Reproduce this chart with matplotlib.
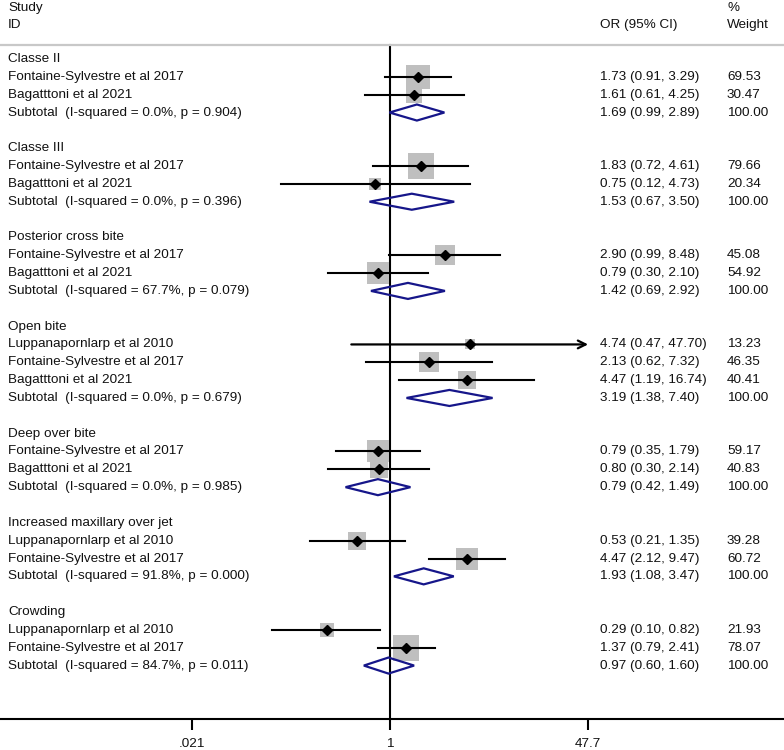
import numpy as np
import matplotlib
matplotlib.use("Agg")
import matplotlib.pyplot as plt
from matplotlib.patches import Polygon

plt.rcParams['font.family'] = ['Liberation Sans', 'DejaVu Sans']

groups = ['Classe II', 'Classe III', 'Posterior cross bite', 'Open bite',
          'Deep over bite', 'Increased maxillary over jet', 'Crowding']
study_names = [
    ['Fontaine-Sylvestre et al 2017', 'Bagatttoni et al 2021'],
    ['Fontaine-Sylvestre et al 2017', 'Bagatttoni et al 2021'],
    ['Fontaine-Sylvestre et al 2017', 'Bagatttoni et al 2021'],
    ['Luppanapornlarp et al 2010', 'Fontaine-Sylvestre et al 2017', 'Bagatttoni et al 2021'],
    ['Fontaine-Sylvestre et al 2017', 'Bagatttoni et al 2021'],
    ['Luppanapornlarp et al 2010', 'Fontaine-Sylvestre et al 2017'],
    ['Luppanapornlarp et al 2010', 'Fontaine-Sylvestre et al 2017'],
]
study_or = [[1.73, 1.61], [1.83, 0.75], [2.90, 0.79], [4.74, 2.13, 4.47],
            [0.79, 0.80], [0.53, 4.47], [0.29, 1.37]]
study_lo = [[0.91, 0.61], [0.72, 0.12], [0.99, 0.30], [0.47, 0.62, 1.19],
            [0.35, 0.30], [0.21, 2.12], [0.10, 0.79]]
study_hi = [[3.29, 4.25], [4.61, 4.73], [8.48, 2.10], [47.70, 7.32, 16.74],
            [1.79, 2.14], [1.35, 9.47], [0.82, 2.41]]
study_wt = [[69.53, 30.47], [79.66, 20.34], [45.08, 54.92], [13.23, 46.35, 40.41],
            [59.17, 40.83], [39.28, 60.72], [21.93, 78.07]]
sub_or = [1.69, 1.53, 1.42, 3.19, 0.79, 1.93, 0.97]
sub_lo = [0.99, 0.67, 0.69, 1.38, 0.42, 1.08, 0.60]
sub_hi = [2.89, 3.50, 2.92, 7.40, 1.49, 3.47, 1.60]
sub_i2 = [0.0, 0.0, 67.7, 0.0, 0.0, 91.8, 84.7]
sub_p = [0.904, 0.396, 0.079, 0.679, 0.985, 0.000, 0.011]

tick_vals = [0.021, 1, 47.7]
tick_labels = ['.021', '1', '47.7']

W, H = 784, 750
fig = plt.figure(figsize=(W / 100, H / 100), dpi=100)
axis_px = 719
ax = fig.add_axes([0, (H - axis_px) / H, 1, axis_px / H])

row0, step = 59, 17.84
px_per_ln = 51.25
ax.set_xscale('log')
ax.set_xlim(np.exp(-390 / px_per_ln), np.exp((W - 390) / px_per_ln))
ax.set_ylim((axis_px - row0) / step, -row0 / step)

fs = 9.7
tc = '#111111'
tr = ax.get_yaxis_transform()
col_id, col_or, col_wt = 8 / W, 600 / W, 727 / W

# header
ax.text(col_id, (8 - row0) / step, 'Study', transform=tr, fontsize=fs, va='center', color=tc)
ax.text(col_id, (25 - row0) / step, 'ID', transform=tr, fontsize=fs, va='center', color=tc)
ax.text(col_or, (25 - row0) / step, 'OR (95% CI)', transform=tr, fontsize=fs, va='center', color=tc)
ax.text(col_wt, (8 - row0) / step, '%', transform=tr, fontsize=fs, va='center', color=tc)
ax.text(col_wt, (25 - row0) / step, 'Weight', transform=tr, fontsize=fs, va='center', color=tc)
line_row = (44.5 - row0) / step
ax.axhline(line_row, color='#c8c8c8', lw=1.6, clip_on=False)

xmax = tick_vals[-1]
row = 0
for g in range(len(groups)):
    ax.text(col_id, row, groups[g], transform=tr, fontsize=fs, va='center', color=tc)
    row += 1
    for k in range(len(study_names[g])):
        o, lo, hi, w = study_or[g][k], study_lo[g][k], study_hi[g][k], study_wt[g][k]
        ax.scatter([o], [row], marker='s', s=4.2 * w, color='#bfbfbf', linewidths=0, zorder=2)
        if hi >= xmax:
            ax.annotate('', xy=(xmax, row), xytext=(lo, row),
                        arrowprops=dict(arrowstyle='->', lw=1.6, color='black',
                                        mutation_scale=14, shrinkA=0, shrinkB=0), zorder=3)
        else:
            ax.plot([lo, hi], [row, row], color='black', lw=1.5, zorder=3)
        ax.plot([o], [row], marker='D', color='black', markersize=5, zorder=4)
        ax.text(col_id, row, study_names[g][k], transform=tr, fontsize=fs, va='center', color=tc)
        ax.text(col_or, row, '%.2f (%.2f, %.2f)' % (o, lo, hi), transform=tr,
                fontsize=fs, va='center', color=tc)
        ax.text(col_wt, row, '%.2f' % w, transform=tr, fontsize=fs, va='center', color=tc)
        row += 1
    h = 0.45
    dia = Polygon([(sub_lo[g], row), (sub_or[g], row - h), (sub_hi[g], row), (sub_or[g], row + h)],
                  closed=True, fill=False, edgecolor='#16168a', lw=1.6, zorder=5)
    ax.add_patch(dia)
    ax.text(col_id, row, 'Subtotal  (I-squared = %.1f%%, p = %.3f)' % (sub_i2[g], sub_p[g]),
            transform=tr, fontsize=fs, va='center', color=tc)
    ax.text(col_or, row, '%.2f (%.2f, %.2f)' % (sub_or[g], sub_lo[g], sub_hi[g]), transform=tr,
            fontsize=fs, va='center', color=tc)
    ax.text(col_wt, row, '100.00', transform=tr, fontsize=fs, va='center', color=tc)
    row += 2

# null line
ax.plot([1, 1], [line_row + 0.05, (axis_px - row0) / step], color='black', lw=1.5,
        zorder=1, clip_on=False)

for s in ['top', 'left', 'right']:
    ax.spines[s].set_visible(False)
ax.spines['bottom'].set_linewidth(1.5)
ax.set_yticks([])
ax.set_xticks(tick_vals)
ax.set_xticklabels(tick_labels)
ax.minorticks_off()
ax.tick_params(axis='x', length=8, width=1.5, pad=6, labelsize=fs, labelcolor=tc)
ax.patch.set_visible(False)

fig.savefig('out.png', dpi=100)
